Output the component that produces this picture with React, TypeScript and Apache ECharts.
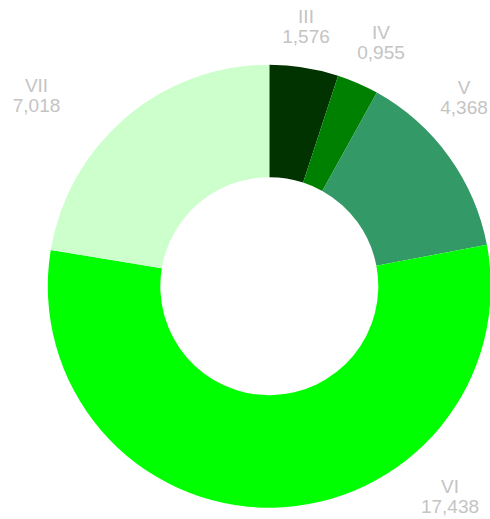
import React, { useEffect, useRef } from "react";
import * as echarts from "echarts";

const categories = ["III", "IV", "V", "VI", "VII"];
const values = [1.576, 0.955, 4.368, 17.438, 7.018];
const colors = ["#003300", "#008000", "#339966", "#00ff00", "#ccffcc"];
// label anchor points (px) for each slice label
const labelPos: [number, number][] = [
  [306, 26.5],
  [381, 42],
  [464, 97],
  [450, 496],
  [36.5, 95],
];

const fmt = (v: number) => v.toFixed(3).replace(".", ",");

export default function App() {
  const ref = useRef<HTMLDivElement>(null);
  useEffect(() => {
    if (!ref.current) return;
    const chart = echarts.init(ref.current, null, { renderer: "svg" });
    chart.setOption({
      animation: false,
      series: [
        {
          type: "pie",
          center: [269.3, 286.2],
          radius: [109, 221.5],
          startAngle: 90,
          clockwise: true,
          avoidLabelOverlap: false,
          data: categories.map((name, i) => ({
            name,
            value: values[i],
            itemStyle: { color: colors[i] },
          })),
          itemStyle: { borderWidth: 0 },
          emphasis: { disabled: true },
          label: {
            show: true,
            position: "outside",
            formatter: (p: any) => `${p.name}\n${fmt(p.value)}`,
            color: "#c4c4c4",
            fontSize: 19,
            lineHeight: 20,
            fontFamily: "'Liberation Sans', Arial, sans-serif",
            align: "center",
          },
          labelLine: { show: false },
          labelLayout: (params: any) => {
            const pos = labelPos[params.dataIndex];
            return {
              x: pos[0],
              y: pos[1],
              align: "center",
              verticalAlign: "middle",
            };
          },
        },
      ],
    });
    return () => chart.dispose();
  }, []);
  return (
    <div
      ref={ref}
      style={{ position: "absolute", left: 0, top: 0, width: 490, height: 519 }}
    />
  );
}
